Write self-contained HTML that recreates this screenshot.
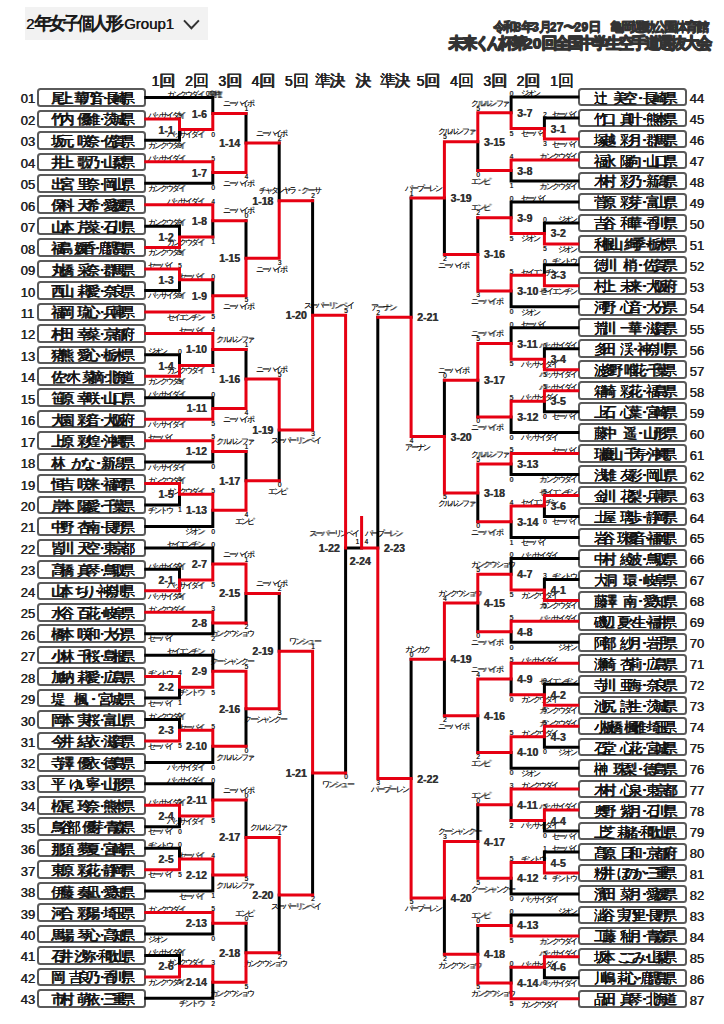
<!DOCTYPE html><html><head><meta charset="utf-8"><style>
*{margin:0;padding:0;box-sizing:border-box}
html,body{width:724px;height:1024px;overflow:hidden;background:#fff}
body{position:relative;font-family:"Liberation Sans",sans-serif;color:#222}
.ln{position:absolute;left:0;top:0}
.a{position:absolute;white-space:nowrap}
.hd{left:25px;top:7px;width:183px;height:33px;background:#f2f2f2}
.nm i,.lb i,.ts i,.rd i,.hx i{display:inline-block;font-style:normal;text-align:center}
.bx{position:absolute;width:109.2px;height:18.6px;border:2px solid #5a5a5a;border-radius:3.5px;background:#fff}
.nm{position:absolute;height:18px;line-height:18px;font-size:13.5px;color:#111;display:flex;justify-content:space-between;text-shadow:0.7px 0 0 #111,0 0.4px 0 #111}
.nm i{width:7.7px;overflow:visible}
.no{position:absolute;font-size:13px;color:#222;line-height:14px;text-shadow:0.4px 0 0 #222}
.ml{position:absolute;font-size:10.5px;font-weight:bold;color:#333;line-height:12px;text-shadow:0.4px 0 0 #333}
.lb{position:absolute;font-size:8px;line-height:7px;color:#111;white-space:nowrap;text-shadow:0.3px 0 0 #555}
.lb i{width:6.1px}
.sc{position:absolute;font-size:6.5px;line-height:6px;color:#222;text-shadow:0.3px 0 0 #222}
.rd{position:absolute;top:74px;font-size:14px;line-height:14px;color:#222;white-space:nowrap;text-shadow:0.5px 0 0 #222,0 0.4px 0 #222}
.rd i{width:14.5px;font-size:16px}

</style></head><body>
<div class="a hd"></div>
<div class="a hx" style="left:26px;top:14px;font-size:15px;line-height:18px;color:#1a1a1a;text-shadow:0.5px 0 0 #1a1a1a">2<span style="font-size:17.5px;text-shadow:0.8px 0 0 #222,0 0.6px 0 #222"><i style="width:14.1px">年</i><i style="width:14.1px">女</i><i style="width:14.1px">子</i><i style="width:14.1px">個</i><i style="width:14.1px">人</i><i style="width:14.1px">形</i></span>-Group1</div>
<svg class="a" style="left:180px;top:16px" width="24" height="16"><path d="M4 4.4L11.4 12.2L18.9 4.4" stroke="#333" stroke-width="2" fill="none"/></svg>
<div class="a hx" style="left:492.5px;top:19.5px;font-size:11px;line-height:14px;color:#333;font-weight:bold"><span style="font-size:12.5px;text-shadow:0.7px 0 0 #333,0 0.6px 0 #333"><i style="width:10.75px">令</i><i style="width:10.75px">和</i>8<i style="width:10.75px">年</i>3<i style="width:10.75px">月</i>27<i style="width:10.75px">〜</i>29<i style="width:10.75px">日</i><i style="width:11.5px"></i><i style="width:10.75px">亀</i><i style="width:10.75px">岡</i><i style="width:10.75px">運</i><i style="width:10.75px">動</i><i style="width:10.75px">公</i><i style="width:10.75px">園</i><i style="width:10.75px">体</i><i style="width:10.75px">育</i><i style="width:10.75px">館</i></span></div>
<div class="a hx" style="left:448px;top:34.5px;font-size:14px;line-height:16px;color:#333;font-weight:bold"><span style="font-size:15.5px;text-shadow:1px 0 0 #333,0 0.8px 0 #333,1px 0.8px 0 #333"><i style="width:12.9px">未</i><i style="width:12.9px">来</i><i style="width:12px">く</i><i style="width:12px">ん</i><i style="width:12.9px">杯</i><i style="width:12.9px">第</i>20<i style="width:12.9px">回</i><i style="width:12.9px">全</i><i style="width:12.9px">国</i><i style="width:12.9px">中</i><i style="width:12.9px">学</i><i style="width:12.9px">生</i><i style="width:12.9px">空</i><i style="width:12.9px">手</i><i style="width:12.9px">道</i><i style="width:12.9px">選</i><i style="width:12.9px">抜</i><i style="width:12.9px">大</i><i style="width:12.9px">会</i></span></div>
<div class="rd" style="left:151.5px">1<i>回</i></div>
<div class="rd" style="left:185px">2<i>回</i></div>
<div class="rd" style="left:218.25px">3<i>回</i></div>
<div class="rd" style="left:251.45px">4<i>回</i></div>
<div class="rd" style="left:284.75px">5<i>回</i></div>
<div class="rd" style="left:314.6px"><i>準</i><i>決</i></div>
<div class="rd" style="left:355.35px"><i>決</i></div>
<div class="rd" style="left:549.95px">1<i>回</i></div>
<div class="rd" style="left:516.6px">2<i>回</i></div>
<div class="rd" style="left:483.3px">3<i>回</i></div>
<div class="rd" style="left:449.95px">4<i>回</i></div>
<div class="rd" style="left:416.6px">5<i>回</i></div>
<div class="rd" style="left:379.95px"><i>準</i><i>決</i></div>
<div class="bx" style="left:36.6px;top:88.15px"></div>
<div class="nm" style="left:51.4px;top:89.95px;width:77px"><i>尾</i><i>上</i><i>&#8203;</i><i>華</i><i>乃</i><i>音</i><i>・</i><i>長</i><i>崎</i><i>県</i></div>
<div class="no" style="left:20.5px;top:92.45px">01</div>
<div class="bx" style="left:36.6px;top:109.6px"></div>
<div class="nm" style="left:51.4px;top:111.4px;width:77px"><i>竹</i><i>内</i><i>&#8203;</i><i>優</i><i>維</i><i>・</i><i>茨</i><i>城</i><i>県</i></div>
<div class="no" style="left:20.5px;top:113.9px">02</div>
<div class="bx" style="left:36.6px;top:131.05px"></div>
<div class="nm" style="left:51.4px;top:132.85px;width:77px"><i>坂</i><i>元</i><i>&#8203;</i><i>咲</i><i>奈</i><i>・</i><i>佐</i><i>賀</i><i>県</i></div>
<div class="no" style="left:20.5px;top:135.35px">03</div>
<div class="bx" style="left:36.6px;top:152.5px"></div>
<div class="nm" style="left:51.4px;top:154.3px;width:77px"><i>井</i><i>上</i><i>&#8203;</i><i>歌</i><i>乃</i><i>・</i><i>山</i><i>梨</i><i>県</i></div>
<div class="no" style="left:20.5px;top:156.8px">04</div>
<div class="bx" style="left:36.6px;top:173.95px"></div>
<div class="nm" style="left:51.4px;top:175.75px;width:77px"><i>出</i><i>宮</i><i>&#8203;</i><i>里</i><i>奈</i><i>・</i><i>岡</i><i>山</i><i>県</i></div>
<div class="no" style="left:20.5px;top:178.25px">05</div>
<div class="bx" style="left:36.6px;top:195.4px"></div>
<div class="nm" style="left:51.4px;top:197.2px;width:77px"><i>保</i><i>科</i><i>&#8203;</i><i>天</i><i>希</i><i>・</i><i>愛</i><i>媛</i><i>県</i></div>
<div class="no" style="left:20.5px;top:199.7px">06</div>
<div class="bx" style="left:36.6px;top:216.85px"></div>
<div class="nm" style="left:51.4px;top:218.65px;width:77px"><i>山</i><i>本</i><i>&#8203;</i><i>芹</i><i>菜</i><i>・</i><i>石</i><i>川</i><i>県</i></div>
<div class="no" style="left:20.5px;top:221.15px">07</div>
<div class="bx" style="left:36.6px;top:238.3px"></div>
<div class="nm" style="left:51.4px;top:240.1px;width:77px"><i>福</i><i>島</i><i>&#8203;</i><i>媛</i><i>香</i><i>・</i><i>鹿</i><i>児</i><i>島</i><i>県</i></div>
<div class="no" style="left:20.5px;top:242.6px">08</div>
<div class="bx" style="left:36.6px;top:259.75px"></div>
<div class="nm" style="left:51.4px;top:261.55px;width:77px"><i>丸</i><i>橋</i><i>&#8203;</i><i>采</i><i>奈</i><i>・</i><i>群</i><i>馬</i><i>県</i></div>
<div class="no" style="left:20.5px;top:264.05px">09</div>
<div class="bx" style="left:36.6px;top:281.2px"></div>
<div class="nm" style="left:51.4px;top:283px;width:77px"><i>西</i><i>山</i><i>&#8203;</i><i>莉</i><i>愛</i><i>・</i><i>奈</i><i>良</i><i>県</i></div>
<div class="no" style="left:20.5px;top:285.5px">10</div>
<div class="bx" style="left:36.6px;top:302.65px"></div>
<div class="nm" style="left:51.4px;top:304.45px;width:77px"><i>福</i><i>岡</i><i>&#8203;</i><i>琉</i><i>心</i><i>・</i><i>兵</i><i>庫</i><i>県</i></div>
<div class="no" style="left:20.5px;top:306.95px">11</div>
<div class="bx" style="left:36.6px;top:324.1px"></div>
<div class="nm" style="left:51.4px;top:325.9px;width:77px"><i>村</i><i>田</i><i>&#8203;</i><i>幸</i><i>菜</i><i>・</i><i>京</i><i>都</i><i>府</i></div>
<div class="no" style="left:20.5px;top:328.4px">12</div>
<div class="bx" style="left:36.6px;top:345.55px"></div>
<div class="nm" style="left:51.4px;top:347.35px;width:77px"><i>猪</i><i>熊</i><i>&#8203;</i><i>愛</i><i>心</i><i>・</i><i>栃</i><i>木</i><i>県</i></div>
<div class="no" style="left:20.5px;top:349.85px">13</div>
<div class="bx" style="left:36.6px;top:367px"></div>
<div class="nm" style="left:51.4px;top:368.8px;width:77px"><i>佐</i><i>々</i><i>木</i><i>&#8203;</i><i>菜</i><i>摘</i><i>・</i><i>北</i><i>海</i><i>道</i></div>
<div class="no" style="left:20.5px;top:371.3px">14</div>
<div class="bx" style="left:36.6px;top:388.45px"></div>
<div class="nm" style="left:51.4px;top:390.25px;width:77px"><i>笹</i><i>原</i><i>&#8203;</i><i>幸</i><i>咲</i><i>・</i><i>山</i><i>口</i><i>県</i></div>
<div class="no" style="left:20.5px;top:392.75px">15</div>
<div class="bx" style="left:36.6px;top:409.9px"></div>
<div class="nm" style="left:51.4px;top:411.7px;width:77px"><i>大</i><i>園</i><i>&#8203;</i><i>彩</i><i>音</i><i>・</i><i>大</i><i>阪</i><i>府</i></div>
<div class="no" style="left:20.5px;top:414.2px">16</div>
<div class="bx" style="left:36.6px;top:431.35px"></div>
<div class="nm" style="left:51.4px;top:433.15px;width:77px"><i>上</i><i>原</i><i>&#8203;</i><i>彩</i><i>煌</i><i>・</i><i>沖</i><i>縄</i><i>県</i></div>
<div class="no" style="left:20.5px;top:435.65px">17</div>
<div class="bx" style="left:36.6px;top:452.8px"></div>
<div class="nm" style="left:51.4px;top:454.6px;width:77px"><i>林</i><i>&#8203;</i><i>か</i><i>な</i><i>・</i><i>新</i><i>潟</i><i>県</i></div>
<div class="no" style="left:20.5px;top:457.1px">18</div>
<div class="bx" style="left:36.6px;top:474.25px"></div>
<div class="nm" style="left:51.4px;top:476.05px;width:77px"><i>恒</i><i>吉</i><i>&#8203;</i><i>咲</i><i>来</i><i>・</i><i>福</i><i>岡</i><i>県</i></div>
<div class="no" style="left:20.5px;top:478.55px">19</div>
<div class="bx" style="left:36.6px;top:495.7px"></div>
<div class="nm" style="left:51.4px;top:497.5px;width:77px"><i>岸</i><i>本</i><i>&#8203;</i><i>陽</i><i>愛</i><i>・</i><i>千</i><i>葉</i><i>県</i></div>
<div class="no" style="left:20.5px;top:500px">20</div>
<div class="bx" style="left:36.6px;top:517.15px"></div>
<div class="nm" style="left:51.4px;top:518.95px;width:77px"><i>中</i><i>野</i><i>&#8203;</i><i>杏</i><i>南</i><i>・</i><i>長</i><i>野</i><i>県</i></div>
<div class="no" style="left:20.5px;top:521.45px">21</div>
<div class="bx" style="left:36.6px;top:538.6px"></div>
<div class="nm" style="left:51.4px;top:540.4px;width:77px"><i>皆</i><i>川</i><i>&#8203;</i><i>天</i><i>空</i><i>・</i><i>東</i><i>京</i><i>都</i></div>
<div class="no" style="left:20.5px;top:542.9px">22</div>
<div class="bx" style="left:36.6px;top:560.05px"></div>
<div class="nm" style="left:51.4px;top:561.85px;width:77px"><i>高</i><i>橋</i><i>&#8203;</i><i>真</i><i>琴</i><i>・</i><i>鳥</i><i>取</i><i>県</i></div>
<div class="no" style="left:20.5px;top:564.35px">23</div>
<div class="bx" style="left:36.6px;top:581.5px"></div>
<div class="nm" style="left:51.4px;top:583.3px;width:77px"><i>山</i><i>本</i><i>&#8203;</i><i>ち</i><i>り</i><i>・</i><i>神</i><i>奈</i><i>川</i><i>県</i></div>
<div class="no" style="left:20.5px;top:585.8px">24</div>
<div class="bx" style="left:36.6px;top:602.95px"></div>
<div class="nm" style="left:51.4px;top:604.75px;width:77px"><i>水</i><i>谷</i><i>&#8203;</i><i>百</i><i>花</i><i>・</i><i>岐</i><i>阜</i><i>県</i></div>
<div class="no" style="left:20.5px;top:607.25px">25</div>
<div class="bx" style="left:36.6px;top:624.4px"></div>
<div class="nm" style="left:51.4px;top:626.2px;width:77px"><i>橋</i><i>本</i><i>&#8203;</i><i>咲</i><i>和</i><i>・</i><i>大</i><i>分</i><i>県</i></div>
<div class="no" style="left:20.5px;top:628.7px">26</div>
<div class="bx" style="left:36.6px;top:645.85px"></div>
<div class="nm" style="left:51.4px;top:647.65px;width:77px"><i>小</i><i>林</i><i>&#8203;</i><i>千</i><i>桜</i><i>・</i><i>島</i><i>根</i><i>県</i></div>
<div class="no" style="left:20.5px;top:650.15px">27</div>
<div class="bx" style="left:36.6px;top:667.3px"></div>
<div class="nm" style="left:51.4px;top:669.1px;width:77px"><i>加</i><i>納</i><i>&#8203;</i><i>莉</i><i>愛</i><i>・</i><i>広</i><i>島</i><i>県</i></div>
<div class="no" style="left:20.5px;top:671.6px">28</div>
<div class="bx" style="left:36.6px;top:688.75px"></div>
<div class="nm" style="left:51.4px;top:690.55px;width:77px"><i>堤</i><i>&#8203;</i><i>楓</i><i>・</i><i>宮</i><i>城</i><i>県</i></div>
<div class="no" style="left:20.5px;top:693.05px">29</div>
<div class="bx" style="left:36.6px;top:710.2px"></div>
<div class="nm" style="left:51.4px;top:712px;width:77px"><i>岡</i><i>本</i><i>&#8203;</i><i>実</i><i>桜</i><i>・</i><i>富</i><i>山</i><i>県</i></div>
<div class="no" style="left:20.5px;top:714.5px">30</div>
<div class="bx" style="left:36.6px;top:731.65px"></div>
<div class="nm" style="left:51.4px;top:733.45px;width:77px"><i>今</i><i>井</i><i>&#8203;</i><i>結</i><i>衣</i><i>・</i><i>滋</i><i>賀</i><i>県</i></div>
<div class="no" style="left:20.5px;top:735.95px">31</div>
<div class="bx" style="left:36.6px;top:753.1px"></div>
<div class="nm" style="left:51.4px;top:754.9px;width:77px"><i>寺</i><i>澤</i><i>&#8203;</i><i>優</i><i>衣</i><i>・</i><i>徳</i><i>島</i><i>県</i></div>
<div class="no" style="left:20.5px;top:757.4px">32</div>
<div class="bx" style="left:36.6px;top:774.55px"></div>
<div class="nm" style="left:51.4px;top:776.35px;width:77px"><i>平</i><i>&#8203;</i><i>ゆ</i><i>い</i><i>寧</i><i>・</i><i>山</i><i>形</i><i>県</i></div>
<div class="no" style="left:20.5px;top:778.85px">33</div>
<div class="bx" style="left:36.6px;top:796px"></div>
<div class="nm" style="left:51.4px;top:797.8px;width:77px"><i>松</i><i>尾</i><i>&#8203;</i><i>玲</i><i>奈</i><i>・</i><i>熊</i><i>本</i><i>県</i></div>
<div class="no" style="left:20.5px;top:800.3px">34</div>
<div class="bx" style="left:36.6px;top:817.45px"></div>
<div class="nm" style="left:51.4px;top:819.25px;width:77px"><i>鳥</i><i>谷</i><i>部</i><i>&#8203;</i><i>優</i><i>芽</i><i>・</i><i>青</i><i>森</i><i>県</i></div>
<div class="no" style="left:20.5px;top:821.75px">35</div>
<div class="bx" style="left:36.6px;top:838.9px"></div>
<div class="nm" style="left:51.4px;top:840.7px;width:77px"><i>那</i><i>須</i><i>&#8203;</i><i>夢</i><i>夏</i><i>・</i><i>宮</i><i>崎</i><i>県</i></div>
<div class="no" style="left:20.5px;top:843.2px">36</div>
<div class="bx" style="left:36.6px;top:860.35px"></div>
<div class="nm" style="left:51.4px;top:862.15px;width:77px"><i>東</i><i>原</i><i>&#8203;</i><i>彩</i><i>花</i><i>・</i><i>静</i><i>岡</i><i>県</i></div>
<div class="no" style="left:20.5px;top:864.65px">37</div>
<div class="bx" style="left:36.6px;top:881.8px"></div>
<div class="nm" style="left:51.4px;top:883.6px;width:77px"><i>伊</i><i>藤</i><i>&#8203;</i><i>奏</i><i>凪</i><i>・</i><i>愛</i><i>知</i><i>県</i></div>
<div class="no" style="left:20.5px;top:886.1px">38</div>
<div class="bx" style="left:36.6px;top:903.25px"></div>
<div class="nm" style="left:51.4px;top:905.05px;width:77px"><i>河</i><i>合</i><i>&#8203;</i><i>彩</i><i>陽</i><i>・</i><i>埼</i><i>玉</i><i>県</i></div>
<div class="no" style="left:20.5px;top:907.55px">39</div>
<div class="bx" style="left:36.6px;top:924.7px"></div>
<div class="nm" style="left:51.4px;top:926.5px;width:77px"><i>馬</i><i>場</i><i>&#8203;</i><i>琴</i><i>心</i><i>・</i><i>高</i><i>知</i><i>県</i></div>
<div class="no" style="left:20.5px;top:929px">40</div>
<div class="bx" style="left:36.6px;top:946.15px"></div>
<div class="nm" style="left:51.4px;top:947.95px;width:77px"><i>石</i><i>井</i><i>&#8203;</i><i>沙</i><i>弥</i><i>・</i><i>和</i><i>歌</i><i>山</i><i>県</i></div>
<div class="no" style="left:20.5px;top:950.45px">41</div>
<div class="bx" style="left:36.6px;top:967.6px"></div>
<div class="nm" style="left:51.4px;top:969.4px;width:77px"><i>岡</i><i>&#8203;</i><i>吉</i><i>良</i><i>乃</i><i>・</i><i>香</i><i>川</i><i>県</i></div>
<div class="no" style="left:20.5px;top:971.9px">42</div>
<div class="bx" style="left:36.6px;top:989.05px"></div>
<div class="nm" style="left:51.4px;top:990.85px;width:77px"><i>市</i><i>村</i><i>&#8203;</i><i>萌</i><i>依</i><i>・</i><i>三</i><i>重</i><i>県</i></div>
<div class="no" style="left:20.5px;top:993.35px">43</div>
<div class="bx" style="left:577.6px;top:87.8px"></div>
<div class="nm" style="left:593.6px;top:89.6px;width:77px"><i>辻</i><i>&#8203;</i><i>美</i><i>空</i><i>・</i><i>長</i><i>崎</i><i>県</i></div>
<div class="no" style="left:689.5px;top:92.1px">44</div>
<div class="bx" style="left:577.6px;top:108.77px"></div>
<div class="nm" style="left:593.6px;top:110.57px;width:77px"><i>竹</i><i>口</i><i>&#8203;</i><i>真</i><i>叶</i><i>・</i><i>熊</i><i>本</i><i>県</i></div>
<div class="no" style="left:689.5px;top:113.07px">45</div>
<div class="bx" style="left:577.6px;top:129.74px"></div>
<div class="nm" style="left:593.6px;top:131.54px;width:77px"><i>塚</i><i>越</i><i>&#8203;</i><i>彩</i><i>月</i><i>・</i><i>群</i><i>馬</i><i>県</i></div>
<div class="no" style="left:689.5px;top:134.04px">46</div>
<div class="bx" style="left:577.6px;top:150.71px"></div>
<div class="nm" style="left:593.6px;top:152.51px;width:77px"><i>福</i><i>永</i><i>&#8203;</i><i>陽</i><i>向</i><i>・</i><i>山</i><i>口</i><i>県</i></div>
<div class="no" style="left:689.5px;top:155.01px">47</div>
<div class="bx" style="left:577.6px;top:171.68px"></div>
<div class="nm" style="left:593.6px;top:173.48px;width:77px"><i>木</i><i>村</i><i>&#8203;</i><i>彩</i><i>乃</i><i>・</i><i>新</i><i>潟</i><i>県</i></div>
<div class="no" style="left:689.5px;top:175.98px">48</div>
<div class="bx" style="left:577.6px;top:192.65px"></div>
<div class="nm" style="left:593.6px;top:194.45px;width:77px"><i>菅</i><i>原</i><i>&#8203;</i><i>彩</i><i>芽</i><i>・</i><i>富</i><i>山</i><i>県</i></div>
<div class="no" style="left:689.5px;top:196.95px">49</div>
<div class="bx" style="left:577.6px;top:213.62px"></div>
<div class="nm" style="left:593.6px;top:215.42px;width:77px"><i>吉</i><i>谷</i><i>&#8203;</i><i>和</i><i>華</i><i>・</i><i>香</i><i>川</i><i>県</i></div>
<div class="no" style="left:689.5px;top:217.92px">50</div>
<div class="bx" style="left:577.6px;top:234.59px"></div>
<div class="nm" style="left:593.6px;top:236.39px;width:77px"><i>利</i><i>根</i><i>山</i><i>&#8203;</i><i>絢</i><i>季</i><i>・</i><i>栃</i><i>木</i><i>県</i></div>
<div class="no" style="left:689.5px;top:238.89px">51</div>
<div class="bx" style="left:577.6px;top:255.56px"></div>
<div class="nm" style="left:593.6px;top:257.36px;width:77px"><i>徳</i><i>川</i><i>&#8203;</i><i>梢</i><i>・</i><i>佐</i><i>賀</i><i>県</i></div>
<div class="no" style="left:689.5px;top:259.86px">52</div>
<div class="bx" style="left:577.6px;top:276.53px"></div>
<div class="nm" style="left:593.6px;top:278.33px;width:77px"><i>村</i><i>上</i><i>&#8203;</i><i>未</i><i>来</i><i>・</i><i>大</i><i>阪</i><i>府</i></div>
<div class="no" style="left:689.5px;top:280.83px">53</div>
<div class="bx" style="left:577.6px;top:297.5px"></div>
<div class="nm" style="left:593.6px;top:299.3px;width:77px"><i>河</i><i>野</i><i>&#8203;</i><i>心</i><i>音</i><i>・</i><i>大</i><i>分</i><i>県</i></div>
<div class="no" style="left:689.5px;top:301.8px">54</div>
<div class="bx" style="left:577.6px;top:318.47px"></div>
<div class="nm" style="left:593.6px;top:320.27px;width:77px"><i>荒</i><i>川</i><i>&#8203;</i><i>一</i><i>華</i><i>・</i><i>滋</i><i>賀</i><i>県</i></div>
<div class="no" style="left:689.5px;top:322.77px">55</div>
<div class="bx" style="left:577.6px;top:339.44px"></div>
<div class="nm" style="left:593.6px;top:341.24px;width:77px"><i>多</i><i>田</i><i>&#8203;</i><i>渓</i><i>・</i><i>神</i><i>奈</i><i>川</i><i>県</i></div>
<div class="no" style="left:689.5px;top:343.74px">56</div>
<div class="bx" style="left:577.6px;top:360.41px"></div>
<div class="nm" style="left:593.6px;top:362.21px;width:77px"><i>波</i><i>多</i><i>野</i><i>&#8203;</i><i>唯</i><i>花</i><i>・</i><i>千</i><i>葉</i><i>県</i></div>
<div class="no" style="left:689.5px;top:364.71px">57</div>
<div class="bx" style="left:577.6px;top:381.38px"></div>
<div class="nm" style="left:593.6px;top:383.18px;width:77px"><i>箱</i><i>崎</i><i>&#8203;</i><i>彩</i><i>花</i><i>・</i><i>福</i><i>島</i><i>県</i></div>
<div class="no" style="left:689.5px;top:385.68px">58</div>
<div class="bx" style="left:577.6px;top:402.35px"></div>
<div class="nm" style="left:593.6px;top:404.15px;width:77px"><i>上</i><i>石</i><i>&#8203;</i><i>心</i><i>葉</i><i>・</i><i>宮</i><i>崎</i><i>県</i></div>
<div class="no" style="left:689.5px;top:406.65px">59</div>
<div class="bx" style="left:577.6px;top:423.32px"></div>
<div class="nm" style="left:593.6px;top:425.12px;width:77px"><i>藤</i><i>中</i><i>&#8203;</i><i>遥</i><i>・</i><i>山</i><i>形</i><i>県</i></div>
<div class="no" style="left:689.5px;top:427.62px">60</div>
<div class="bx" style="left:577.6px;top:444.29px"></div>
<div class="nm" style="left:593.6px;top:446.09px;width:77px"><i>瑞</i><i>慶</i><i>山</i><i>&#8203;</i><i>千</i><i>寿</i><i>・</i><i>沖</i><i>縄</i><i>県</i></div>
<div class="no" style="left:689.5px;top:448.59px">61</div>
<div class="bx" style="left:577.6px;top:465.26px"></div>
<div class="nm" style="left:593.6px;top:467.06px;width:77px"><i>浅</i><i>雄</i><i>&#8203;</i><i>友</i><i>彩</i><i>・</i><i>岡</i><i>山</i><i>県</i></div>
<div class="no" style="left:689.5px;top:469.56px">62</div>
<div class="bx" style="left:577.6px;top:486.23px"></div>
<div class="nm" style="left:593.6px;top:488.03px;width:77px"><i>金</i><i>川</i><i>&#8203;</i><i>花</i><i>梨</i><i>・</i><i>兵</i><i>庫</i><i>県</i></div>
<div class="no" style="left:689.5px;top:490.53px">63</div>
<div class="bx" style="left:577.6px;top:507.2px"></div>
<div class="nm" style="left:593.6px;top:509px;width:77px"><i>土</i><i>屋</i><i>&#8203;</i><i>璃</i><i>歩</i><i>・</i><i>静</i><i>岡</i><i>県</i></div>
<div class="no" style="left:689.5px;top:511.5px">64</div>
<div class="bx" style="left:577.6px;top:528.17px"></div>
<div class="nm" style="left:593.6px;top:529.97px;width:77px"><i>岩</i><i>谷</i><i>&#8203;</i><i>珠</i><i>優</i><i>音</i><i>・</i><i>福</i><i>岡</i><i>県</i></div>
<div class="no" style="left:689.5px;top:532.47px">65</div>
<div class="bx" style="left:577.6px;top:549.14px"></div>
<div class="nm" style="left:593.6px;top:550.94px;width:77px"><i>中</i><i>村</i><i>&#8203;</i><i>綾</i><i>波</i><i>・</i><i>鳥</i><i>取</i><i>県</i></div>
<div class="no" style="left:689.5px;top:553.44px">66</div>
<div class="bx" style="left:577.6px;top:570.11px"></div>
<div class="nm" style="left:593.6px;top:571.91px;width:77px"><i>大</i><i>洞</i><i>&#8203;</i><i>環</i><i>・</i><i>岐</i><i>阜</i><i>県</i></div>
<div class="no" style="left:689.5px;top:574.41px">67</div>
<div class="bx" style="left:577.6px;top:591.08px"></div>
<div class="nm" style="left:593.6px;top:592.88px;width:77px"><i>藤</i><i>澤</i><i>&#8203;</i><i>南</i><i>・</i><i>愛</i><i>知</i><i>県</i></div>
<div class="no" style="left:689.5px;top:595.38px">68</div>
<div class="bx" style="left:577.6px;top:612.05px"></div>
<div class="nm" style="left:593.6px;top:613.85px;width:77px"><i>磯</i><i>辺</i><i>&#8203;</i><i>夏</i><i>々</i><i>生</i><i>・</i><i>福</i><i>井</i><i>県</i></div>
<div class="no" style="left:689.5px;top:616.35px">69</div>
<div class="bx" style="left:577.6px;top:633.02px"></div>
<div class="nm" style="left:593.6px;top:634.82px;width:77px"><i>阿</i><i>部</i><i>&#8203;</i><i>紗</i><i>月</i><i>・</i><i>岩</i><i>手</i><i>県</i></div>
<div class="no" style="left:689.5px;top:637.32px">70</div>
<div class="bx" style="left:577.6px;top:653.99px"></div>
<div class="nm" style="left:593.6px;top:655.79px;width:77px"><i>瀬</i><i>崎</i><i>&#8203;</i><i>杏</i><i>莉</i><i>・</i><i>広</i><i>島</i><i>県</i></div>
<div class="no" style="left:689.5px;top:658.29px">71</div>
<div class="bx" style="left:577.6px;top:674.96px"></div>
<div class="nm" style="left:593.6px;top:676.76px;width:77px"><i>寺</i><i>川</i><i>&#8203;</i><i>亜</i><i>海</i><i>・</i><i>奈</i><i>良</i><i>県</i></div>
<div class="no" style="left:689.5px;top:679.26px">72</div>
<div class="bx" style="left:577.6px;top:695.93px"></div>
<div class="nm" style="left:593.6px;top:697.73px;width:77px"><i>池</i><i>尻</i><i>&#8203;</i><i>詩</i><i>生</i><i>・</i><i>茨</i><i>城</i><i>県</i></div>
<div class="no" style="left:689.5px;top:700.23px">73</div>
<div class="bx" style="left:577.6px;top:716.9px"></div>
<div class="nm" style="left:593.6px;top:718.7px;width:77px"><i>小</i><i>板</i><i>橋</i><i>&#8203;</i><i>楓</i><i>雅</i><i>・</i><i>埼</i><i>玉</i><i>県</i></div>
<div class="no" style="left:689.5px;top:721.2px">74</div>
<div class="bx" style="left:577.6px;top:737.87px"></div>
<div class="nm" style="left:593.6px;top:739.67px;width:77px"><i>石</i><i>堂</i><i>&#8203;</i><i>心</i><i>花</i><i>・</i><i>宮</i><i>城</i><i>県</i></div>
<div class="no" style="left:689.5px;top:742.17px">75</div>
<div class="bx" style="left:577.6px;top:758.84px"></div>
<div class="nm" style="left:593.6px;top:760.64px;width:77px"><i>榊</i><i>&#8203;</i><i>珠</i><i>梨</i><i>・</i><i>徳</i><i>島</i><i>県</i></div>
<div class="no" style="left:689.5px;top:763.14px">76</div>
<div class="bx" style="left:577.6px;top:779.81px"></div>
<div class="nm" style="left:593.6px;top:781.61px;width:77px"><i>木</i><i>村</i><i>&#8203;</i><i>心</i><i>泉</i><i>・</i><i>東</i><i>京</i><i>都</i></div>
<div class="no" style="left:689.5px;top:784.11px">77</div>
<div class="bx" style="left:577.6px;top:800.78px"></div>
<div class="nm" style="left:593.6px;top:802.58px;width:77px"><i>奥</i><i>野</i><i>&#8203;</i><i>紫</i><i>月</i><i>・</i><i>石</i><i>川</i><i>県</i></div>
<div class="no" style="left:689.5px;top:805.08px">78</div>
<div class="bx" style="left:577.6px;top:821.75px"></div>
<div class="nm" style="left:593.6px;top:823.55px;width:77px"><i>上</i><i>芝</i><i>&#8203;</i><i>莉</i><i>緒</i><i>・</i><i>和</i><i>歌</i><i>山</i><i>県</i></div>
<div class="no" style="left:689.5px;top:826.05px">79</div>
<div class="bx" style="left:577.6px;top:842.72px"></div>
<div class="nm" style="left:593.6px;top:844.52px;width:77px"><i>髙</i><i>原</i><i>&#8203;</i><i>日</i><i>和</i><i>・</i><i>京</i><i>都</i><i>府</i></div>
<div class="no" style="left:689.5px;top:847.02px">80</div>
<div class="bx" style="left:577.6px;top:863.69px"></div>
<div class="nm" style="left:593.6px;top:865.49px;width:77px"><i>粉</i><i>井</i><i>&#8203;</i><i>ほ</i><i>の</i><i>か</i><i>・</i><i>三</i><i>重</i><i>県</i></div>
<div class="no" style="left:689.5px;top:867.99px">81</div>
<div class="bx" style="left:577.6px;top:884.66px"></div>
<div class="nm" style="left:593.6px;top:886.46px;width:77px"><i>濱</i><i>田</i><i>&#8203;</i><i>菜</i><i>月</i><i>・</i><i>愛</i><i>媛</i><i>県</i></div>
<div class="no" style="left:689.5px;top:888.96px">82</div>
<div class="bx" style="left:577.6px;top:905.63px"></div>
<div class="nm" style="left:593.6px;top:907.43px;width:77px"><i>澁</i><i>谷</i><i>&#8203;</i><i>実</i><i>乃</i><i>里</i><i>・</i><i>長</i><i>野</i><i>県</i></div>
<div class="no" style="left:689.5px;top:909.93px">83</div>
<div class="bx" style="left:577.6px;top:926.6px"></div>
<div class="nm" style="left:593.6px;top:928.4px;width:77px"><i>工</i><i>藤</i><i>&#8203;</i><i>釉</i><i>月</i><i>・</i><i>青</i><i>森</i><i>県</i></div>
<div class="no" style="left:689.5px;top:930.9px">84</div>
<div class="bx" style="left:577.6px;top:947.57px"></div>
<div class="nm" style="left:593.6px;top:949.37px;width:77px"><i>坂</i><i>本</i><i>&#8203;</i><i>こ</i><i>こ</i><i>み</i><i>・</i><i>山</i><i>梨</i><i>県</i></div>
<div class="no" style="left:689.5px;top:951.87px">85</div>
<div class="bx" style="left:577.6px;top:968.54px"></div>
<div class="nm" style="left:593.6px;top:970.34px;width:77px"><i>川</i><i>嶋</i><i>&#8203;</i><i>莉</i><i>心</i><i>・</i><i>鹿</i><i>児</i><i>島</i><i>県</i></div>
<div class="no" style="left:689.5px;top:972.84px">86</div>
<div class="bx" style="left:577.6px;top:989.51px"></div>
<div class="nm" style="left:593.6px;top:991.31px;width:77px"><i>品</i><i>田</i><i>&#8203;</i><i>真</i><i>琴</i><i>・</i><i>北</i><i>海</i><i>道</i></div>
<div class="no" style="left:689.5px;top:993.81px">87</div>
<div class="ml" style="right:550.5px;top:123.62px">1-1</div>
<div class="ml" style="right:517.2px;top:107.54px">1-6</div>
<div class="ml" style="right:517.2px;top:166.53px">1-7</div>
<div class="ml" style="right:484px;top:137.03px">1-14</div>
<div class="ml" style="right:550.5px;top:230.88px">1-2</div>
<div class="ml" style="right:517.2px;top:214.79px">1-8</div>
<div class="ml" style="right:550.5px;top:273.77px">1-3</div>
<div class="ml" style="right:517.2px;top:289.86px">1-9</div>
<div class="ml" style="right:484px;top:252.32px">1-15</div>
<div class="ml" style="right:450.8px;top:194.68px">1-18</div>
<div class="ml" style="right:550.5px;top:359.57px">1-4</div>
<div class="ml" style="right:517.2px;top:343.49px">1-10</div>
<div class="ml" style="right:517.2px;top:402.48px">1-11</div>
<div class="ml" style="right:484px;top:372.98px">1-16</div>
<div class="ml" style="right:517.2px;top:445.38px">1-12</div>
<div class="ml" style="right:550.5px;top:488.27px">1-5</div>
<div class="ml" style="right:517.2px;top:504.36px">1-13</div>
<div class="ml" style="right:484px;top:474.87px">1-17</div>
<div class="ml" style="right:450.8px;top:423.92px">1-19</div>
<div class="ml" style="right:417.4px;top:309.3px">1-20</div>
<div class="ml" style="right:550.5px;top:574.08px">2-1</div>
<div class="ml" style="right:517.2px;top:557.99px">2-7</div>
<div class="ml" style="right:517.2px;top:616.98px">2-8</div>
<div class="ml" style="right:484px;top:587.48px">2-15</div>
<div class="ml" style="right:550.5px;top:681.33px">2-2</div>
<div class="ml" style="right:517.2px;top:665.24px">2-9</div>
<div class="ml" style="right:550.5px;top:724.23px">2-3</div>
<div class="ml" style="right:517.2px;top:740.31px">2-10</div>
<div class="ml" style="right:484px;top:702.77px">2-16</div>
<div class="ml" style="right:450.8px;top:645.13px">2-19</div>
<div class="ml" style="right:550.5px;top:810.03px">2-4</div>
<div class="ml" style="right:517.2px;top:793.94px">2-11</div>
<div class="ml" style="right:550.5px;top:852.92px">2-5</div>
<div class="ml" style="right:517.2px;top:869.01px">2-12</div>
<div class="ml" style="right:484px;top:831.48px">2-17</div>
<div class="ml" style="right:517.2px;top:917.28px">2-13</div>
<div class="ml" style="right:550.5px;top:960.17px">2-6</div>
<div class="ml" style="right:517.2px;top:976.26px">2-14</div>
<div class="ml" style="right:484px;top:946.77px">2-18</div>
<div class="ml" style="right:450.8px;top:889.12px">2-20</div>
<div class="ml" style="right:417.4px;top:767.12px">1-21</div>
<div class="ml" style="right:384.4px;top:542px">1-22</div>
<div class="ml" style="left:550.4px;top:122.56px">3-1</div>
<div class="ml" style="left:517.1px;top:106.83px">3-7</div>
<div class="ml" style="left:517.1px;top:164.5px">3-8</div>
<div class="ml" style="left:483.8px;top:135.66px">3-15</div>
<div class="ml" style="left:550.4px;top:227.4px">3-2</div>
<div class="ml" style="left:517.1px;top:211.68px">3-9</div>
<div class="ml" style="left:550.4px;top:269.35px">3-3</div>
<div class="ml" style="left:517.1px;top:285.07px">3-10</div>
<div class="ml" style="left:483.8px;top:248.38px">3-16</div>
<div class="ml" style="left:450.4px;top:192.02px">3-19</div>
<div class="ml" style="left:550.4px;top:353.23px">3-4</div>
<div class="ml" style="left:517.1px;top:337.5px">3-11</div>
<div class="ml" style="left:550.4px;top:395.16px">3-5</div>
<div class="ml" style="left:517.1px;top:410.89px">3-12</div>
<div class="ml" style="left:483.8px;top:374.19px">3-17</div>
<div class="ml" style="left:517.1px;top:458.07px">3-13</div>
<div class="ml" style="left:550.4px;top:500.01px">3-6</div>
<div class="ml" style="left:517.1px;top:515.74px">3-14</div>
<div class="ml" style="left:483.8px;top:486.91px">3-18</div>
<div class="ml" style="left:450.4px;top:430.55px">3-20</div>
<div class="ml" style="left:417.1px;top:311.28px">2-21</div>
<div class="ml" style="left:550.4px;top:583.89px">4-1</div>
<div class="ml" style="left:517.1px;top:568.17px">4-7</div>
<div class="ml" style="left:517.1px;top:625.84px">4-8</div>
<div class="ml" style="left:483.8px;top:597px">4-15</div>
<div class="ml" style="left:550.4px;top:688.75px">4-2</div>
<div class="ml" style="left:517.1px;top:673.02px">4-9</div>
<div class="ml" style="left:550.4px;top:730.68px">4-3</div>
<div class="ml" style="left:517.1px;top:746.41px">4-10</div>
<div class="ml" style="left:483.8px;top:709.71px">4-16</div>
<div class="ml" style="left:450.4px;top:653.36px">4-19</div>
<div class="ml" style="left:550.4px;top:814.57px">4-4</div>
<div class="ml" style="left:517.1px;top:798.84px">4-11</div>
<div class="ml" style="left:550.4px;top:856.5px">4-5</div>
<div class="ml" style="left:517.1px;top:872.23px">4-12</div>
<div class="ml" style="left:483.8px;top:835.54px">4-17</div>
<div class="ml" style="left:517.1px;top:919.41px">4-13</div>
<div class="ml" style="left:550.4px;top:961.36px">4-6</div>
<div class="ml" style="left:517.1px;top:977.08px">4-14</div>
<div class="ml" style="left:483.8px;top:948.25px">4-18</div>
<div class="ml" style="left:450.4px;top:891.89px">4-20</div>
<div class="ml" style="left:417.1px;top:772.62px">2-22</div>
<div class="ml" style="left:383.8px;top:542px">2-23</div>
<div class="ml" style="left:349.6px;top:555px">2-24</div>
<div class="lb" style="left:147.8px;top:112.2px"><i>バ</i><i>ッ</i><i>サ</i><i>イ</i><i>ダ</i><i>イ</i></div>
<div class="sc" style="left:178px;top:112.7px">5</div>
<div class="lb" style="left:147.8px;top:142.05px"><i>カ</i><i>ン</i><i>ク</i><i>ウ</i><i>ダ</i><i>イ</i></div>
<div class="sc" style="left:178px;top:142.55px">0</div>
<div class="lb" style="right:520.7px;top:90.75px"><i>カ</i><i>ン</i><i>ク</i><i>ウ</i><i>ダ</i><i>イ</i></div>
<div class="sc" style="left:205.8px;top:91.25px">0</div>
<div class="lb" style="left:208.3px;top:90.75px"><i>棄</i><i>権</i></div>
<div class="lb" style="right:520.7px;top:131.32px"><i>バ</i><i>ッ</i><i>サ</i><i>イ</i><i>ダ</i><i>イ</i></div>
<div class="sc" style="left:211.3px;top:131.82px">0</div>
<div class="lb" style="left:147.8px;top:155.1px"><i>バ</i><i>ッ</i><i>サ</i><i>イ</i><i>ダ</i><i>イ</i></div>
<div class="sc" style="left:211.3px;top:155.6px">5</div>
<div class="lb" style="left:147.8px;top:184.95px"><i>カ</i><i>ン</i><i>ク</i><i>ウ</i><i>ダ</i><i>イ</i></div>
<div class="sc" style="left:211.3px;top:185.45px">0</div>
<div class="lb" style="right:471px;top:100.24px"><i>ニ</i><i>ー</i><i>ハ</i><i>イ</i><i>ポ</i></div>
<div class="sc" style="left:244.5px;top:106.24px">1</div>
<div class="lb" style="right:471px;top:179.93px"><i>ニ</i><i>ー</i><i>ハ</i><i>イ</i><i>ポ</i></div>
<div class="sc" style="left:244.5px;top:173.83px">4</div>
<div class="lb" style="left:147.8px;top:219.45px"><i>カ</i><i>ン</i><i>ク</i><i>ウ</i><i>ダ</i><i>イ</i></div>
<div class="sc" style="left:178px;top:219.95px">0</div>
<div class="lb" style="left:147.8px;top:249.3px"><i>カ</i><i>ン</i><i>ク</i><i>ウ</i><i>ダ</i><i>イ</i></div>
<div class="sc" style="left:178px;top:249.8px">5</div>
<div class="lb" style="right:520.7px;top:198px"><i>バ</i><i>ッ</i><i>サ</i><i>イ</i><i>ダ</i><i>イ</i></div>
<div class="sc" style="left:211.3px;top:198.5px">4</div>
<div class="lb" style="right:520.7px;top:238.57px"><i>カ</i><i>ン</i><i>ク</i><i>ウ</i><i>ダ</i><i>イ</i></div>
<div class="sc" style="left:211.3px;top:239.07px">1</div>
<div class="lb" style="left:147.8px;top:262.35px"><i>セ</i><i>ー</i><i>バ</i><i>イ</i></div>
<div class="sc" style="left:178px;top:262.85px">5</div>
<div class="lb" style="left:147.8px;top:292.2px"><i>バ</i><i>ッ</i><i>サ</i><i>イ</i><i>ダ</i><i>イ</i></div>
<div class="sc" style="left:178px;top:292.7px">0</div>
<div class="lb" style="right:520.7px;top:273.07px"><i>セ</i><i>ー</i><i>バ</i><i>イ</i></div>
<div class="sc" style="left:211.3px;top:273.57px">0</div>
<div class="lb" style="right:520.7px;top:313.65px"><i>セ</i><i>イ</i><i>エ</i><i>ン</i><i>チ</i><i>ン</i></div>
<div class="sc" style="left:211.3px;top:314.15px">5</div>
<div class="lb" style="right:471px;top:207.49px"><i>ニ</i><i>ー</i><i>ハ</i><i>イ</i><i>ポ</i></div>
<div class="sc" style="left:244.5px;top:213.49px">0</div>
<div class="lb" style="right:471px;top:303.26px"><i>ニ</i><i>ー</i><i>ハ</i><i>イ</i><i>ポ</i></div>
<div class="sc" style="left:244.5px;top:297.16px">5</div>
<div class="lb" style="right:437.8px;top:129.73px"><i>ニ</i><i>ー</i><i>ハ</i><i>イ</i><i>ポ</i></div>
<div class="sc" style="left:277.7px;top:135.73px">2</div>
<div class="lb" style="right:437.8px;top:265.72px"><i>ニ</i><i>ー</i><i>ハ</i><i>イ</i><i>ポ</i></div>
<div class="sc" style="left:277.7px;top:259.62px">3</div>
<div class="lb" style="left:147.8px;top:348.15px"><i>ジ</i><i>オ</i><i>ン</i></div>
<div class="sc" style="left:178px;top:348.65px">0</div>
<div class="lb" style="left:147.8px;top:378px"><i>カ</i><i>ン</i><i>ク</i><i>ウ</i><i>ダ</i><i>イ</i></div>
<div class="sc" style="left:178px;top:378.5px">5</div>
<div class="lb" style="right:520.7px;top:326.7px"><i>セ</i><i>ー</i><i>バ</i><i>イ</i></div>
<div class="sc" style="left:211.3px;top:327.2px">4</div>
<div class="lb" style="right:520.7px;top:367.27px"><i>カ</i><i>ン</i><i>ク</i><i>ウ</i><i>ダ</i><i>イ</i></div>
<div class="sc" style="left:211.3px;top:367.77px">1</div>
<div class="lb" style="left:147.8px;top:391.05px"><i>バ</i><i>ッ</i><i>サ</i><i>イ</i><i>ダ</i><i>イ</i></div>
<div class="sc" style="left:211.3px;top:391.55px">0</div>
<div class="lb" style="left:147.8px;top:420.9px"><i>バ</i><i>ッ</i><i>サ</i><i>イ</i><i>ダ</i><i>イ</i></div>
<div class="sc" style="left:211.3px;top:421.4px">5</div>
<div class="lb" style="right:471px;top:336.19px"><i>ク</i><i>ル</i><i>ル</i><i>ン</i><i>フ</i><i>ァ</i></div>
<div class="sc" style="left:244.5px;top:342.19px">1</div>
<div class="lb" style="right:471px;top:415.88px"><i>ニ</i><i>ー</i><i>ハ</i><i>イ</i><i>ポ</i></div>
<div class="sc" style="left:244.5px;top:409.78px">4</div>
<div class="lb" style="left:147.8px;top:433.95px"><i>セ</i><i>ー</i><i>バ</i><i>イ</i></div>
<div class="sc" style="left:211.3px;top:434.45px">5</div>
<div class="lb" style="left:147.8px;top:463.8px"><i>バ</i><i>ッ</i><i>サ</i><i>イ</i><i>ダ</i><i>イ</i></div>
<div class="sc" style="left:211.3px;top:464.3px">0</div>
<div class="lb" style="left:147.8px;top:476.85px"><i>カ</i><i>ン</i><i>ク</i><i>ウ</i><i>ダ</i><i>イ</i></div>
<div class="sc" style="left:178px;top:477.35px">4</div>
<div class="lb" style="left:147.8px;top:506.7px"><i>チ</i><i>ン</i><i>ト</i><i>ウ</i></div>
<div class="sc" style="left:178px;top:507.2px">1</div>
<div class="lb" style="right:520.7px;top:487.57px"><i>カ</i><i>ン</i><i>ク</i><i>ウ</i><i>ダ</i><i>イ</i></div>
<div class="sc" style="left:211.3px;top:488.07px">5</div>
<div class="lb" style="right:520.7px;top:528.15px"><i>ジ</i><i>オ</i><i>ン</i></div>
<div class="sc" style="left:211.3px;top:528.65px">0</div>
<div class="lb" style="right:471px;top:438.07px"><i>ク</i><i>ル</i><i>ル</i><i>ン</i><i>フ</i><i>ァ</i></div>
<div class="sc" style="left:244.5px;top:444.07px">1</div>
<div class="lb" style="right:471px;top:517.76px"><i>エ</i><i>ン</i><i>ピ</i></div>
<div class="sc" style="left:244.5px;top:511.66px">4</div>
<div class="lb" style="right:437.8px;top:365.68px"><i>ニ</i><i>ー</i><i>ハ</i><i>イ</i><i>ポ</i></div>
<div class="sc" style="left:277.7px;top:371.68px">5</div>
<div class="lb" style="right:437.8px;top:488.27px"><i>エ</i><i>ン</i><i>ピ</i></div>
<div class="sc" style="left:277.7px;top:482.17px">0</div>
<div class="lb" style="right:404.4px;top:187.38px"><i>チ</i><i>ャ</i><i>タ</i><i>ン</i><i>ヤ</i><i>ラ</i><i>・</i><i>ク</i><i>ー</i><i>サ</i></div>
<div class="sc" style="left:311.1px;top:193.38px">2</div>
<div class="lb" style="right:404.4px;top:437.32px"><i>ス</i><i>ー</i><i>パ</i><i>ー</i><i>リ</i><i>ン</i><i>ペ</i><i>イ</i></div>
<div class="sc" style="left:311.1px;top:431.22px">3</div>
<div class="lb" style="left:147.8px;top:562.65px"><i>バ</i><i>ッ</i><i>サ</i><i>イ</i><i>ダ</i><i>イ</i></div>
<div class="sc" style="left:178px;top:563.15px">0</div>
<div class="lb" style="left:147.8px;top:592.5px"><i>バ</i><i>ッ</i><i>サ</i><i>イ</i><i>ダ</i><i>イ</i></div>
<div class="sc" style="left:178px;top:593px">5</div>
<div class="lb" style="right:520.7px;top:541.2px"><i>セ</i><i>イ</i><i>エ</i><i>ン</i><i>チ</i><i>ン</i></div>
<div class="sc" style="left:211.3px;top:541.7px">0</div>
<div class="lb" style="right:520.7px;top:581.78px"><i>バ</i><i>ッ</i><i>サ</i><i>イ</i><i>ダ</i><i>イ</i></div>
<div class="sc" style="left:211.3px;top:582.28px">5</div>
<div class="lb" style="left:147.8px;top:605.55px"><i>カ</i><i>ン</i><i>ク</i><i>ウ</i><i>ダ</i><i>イ</i></div>
<div class="sc" style="left:211.3px;top:606.05px">3</div>
<div class="lb" style="left:147.8px;top:635.4px"><i>セ</i><i>ー</i><i>バ</i><i>イ</i></div>
<div class="sc" style="left:211.3px;top:635.9px">2</div>
<div class="lb" style="right:471px;top:550.69px"><i>ニ</i><i>ー</i><i>ハ</i><i>イ</i><i>ポ</i></div>
<div class="sc" style="left:244.5px;top:556.69px">1</div>
<div class="lb" style="right:471px;top:630.38px"><i>カ</i><i>ン</i><i>ク</i><i>ウ</i><i>シ</i><i>ョ</i><i>ウ</i></div>
<div class="sc" style="left:244.5px;top:624.27px">2</div>
<div class="lb" style="left:147.8px;top:669.9px"><i>チ</i><i>ン</i><i>ト</i><i>ウ</i></div>
<div class="sc" style="left:178px;top:670.4px">4</div>
<div class="lb" style="left:147.8px;top:699.75px"><i>セ</i><i>ー</i><i>バ</i><i>イ</i></div>
<div class="sc" style="left:178px;top:700.25px">1</div>
<div class="lb" style="right:520.7px;top:648.45px"><i>セ</i><i>イ</i><i>エ</i><i>ン</i><i>チ</i><i>ン</i></div>
<div class="sc" style="left:211.3px;top:648.95px">0</div>
<div class="lb" style="right:520.7px;top:689.03px"><i>チ</i><i>ン</i><i>ト</i><i>ウ</i></div>
<div class="sc" style="left:211.3px;top:689.53px">5</div>
<div class="lb" style="left:147.8px;top:712.8px"><i>カ</i><i>ン</i><i>ク</i><i>ウ</i><i>ダ</i><i>イ</i></div>
<div class="sc" style="left:178px;top:713.3px">0</div>
<div class="lb" style="left:147.8px;top:742.65px"><i>セ</i><i>ー</i><i>バ</i><i>イ</i></div>
<div class="sc" style="left:178px;top:743.15px">5</div>
<div class="lb" style="right:520.7px;top:723.52px"><i>セ</i><i>ー</i><i>バ</i><i>イ</i></div>
<div class="sc" style="left:211.3px;top:724.02px">5</div>
<div class="lb" style="right:520.7px;top:764.1px"><i>バ</i><i>ッ</i><i>サ</i><i>イ</i><i>ダ</i><i>イ</i></div>
<div class="sc" style="left:211.3px;top:764.6px">0</div>
<div class="lb" style="right:471px;top:657.94px"><i>ク</i><i>ー</i><i>シ</i><i>ャ</i><i>ン</i><i>ク</i><i>ー</i></div>
<div class="sc" style="left:244.5px;top:663.94px">5</div>
<div class="lb" style="right:471px;top:753.71px"><i>ク</i><i>ル</i><i>ル</i><i>ン</i><i>フ</i><i>ァ</i></div>
<div class="sc" style="left:244.5px;top:747.61px">0</div>
<div class="lb" style="right:437.8px;top:580.18px"><i>ニ</i><i>ー</i><i>ハ</i><i>イ</i><i>ポ</i></div>
<div class="sc" style="left:277.7px;top:586.18px">2</div>
<div class="lb" style="right:437.8px;top:716.17px"><i>ク</i><i>ー</i><i>シ</i><i>ャ</i><i>ン</i><i>ク</i><i>ー</i></div>
<div class="sc" style="left:277.7px;top:710.07px">3</div>
<div class="lb" style="left:147.8px;top:798.6px"><i>バ</i><i>ッ</i><i>サ</i><i>イ</i><i>ダ</i><i>イ</i></div>
<div class="sc" style="left:178px;top:799.1px">5</div>
<div class="lb" style="left:147.8px;top:828.45px"><i>セ</i><i>ー</i><i>バ</i><i>イ</i></div>
<div class="sc" style="left:178px;top:828.95px">0</div>
<div class="lb" style="right:520.7px;top:777.15px"><i>バ</i><i>ッ</i><i>サ</i><i>イ</i><i>ダ</i><i>イ</i></div>
<div class="sc" style="left:211.3px;top:777.65px">0</div>
<div class="lb" style="right:520.7px;top:817.73px"><i>バ</i><i>ッ</i><i>サ</i><i>イ</i><i>ダ</i><i>イ</i></div>
<div class="sc" style="left:211.3px;top:818.23px">5</div>
<div class="lb" style="left:147.8px;top:841.5px"><i>チ</i><i>ン</i><i>ト</i><i>ウ</i></div>
<div class="sc" style="left:178px;top:842px">0</div>
<div class="lb" style="left:147.8px;top:871.35px"><i>セ</i><i>ー</i><i>バ</i><i>イ</i></div>
<div class="sc" style="left:178px;top:871.85px">5</div>
<div class="lb" style="right:520.7px;top:852.22px"><i>セ</i><i>ー</i><i>バ</i><i>イ</i></div>
<div class="sc" style="left:211.3px;top:852.72px">4</div>
<div class="lb" style="right:520.7px;top:892.8px"><i>セ</i><i>ー</i><i>バ</i><i>イ</i></div>
<div class="sc" style="left:211.3px;top:893.3px">1</div>
<div class="lb" style="right:471px;top:786.64px"><i>ニ</i><i>ー</i><i>ハ</i><i>イ</i><i>ポ</i></div>
<div class="sc" style="left:244.5px;top:792.64px">0</div>
<div class="lb" style="right:471px;top:882.41px"><i>ク</i><i>ル</i><i>ル</i><i>ン</i><i>フ</i><i>ァ</i></div>
<div class="sc" style="left:244.5px;top:876.31px">5</div>
<div class="lb" style="left:147.8px;top:905.85px"><i>カ</i><i>ン</i><i>ク</i><i>ウ</i><i>ダ</i><i>イ</i></div>
<div class="sc" style="left:211.3px;top:906.35px">5</div>
<div class="lb" style="left:147.8px;top:935.7px"><i>ジ</i><i>オ</i><i>ン</i></div>
<div class="sc" style="left:211.3px;top:936.2px">0</div>
<div class="lb" style="left:147.8px;top:948.75px"><i>バ</i><i>ッ</i><i>サ</i><i>イ</i><i>ダ</i><i>イ</i></div>
<div class="sc" style="left:178px;top:949.25px">0</div>
<div class="lb" style="left:147.8px;top:978.6px"><i>カ</i><i>ン</i><i>ク</i><i>ウ</i><i>ダ</i><i>イ</i></div>
<div class="sc" style="left:178px;top:979.1px">5</div>
<div class="lb" style="right:520.7px;top:959.47px"><i>カ</i><i>ン</i><i>ク</i><i>ウ</i><i>ダ</i><i>イ</i></div>
<div class="sc" style="left:211.3px;top:959.97px">3</div>
<div class="lb" style="right:520.7px;top:1000.05px"><i>チ</i><i>ン</i><i>ト</i><i>ウ</i></div>
<div class="sc" style="left:211.3px;top:1000.55px">2</div>
<div class="lb" style="right:471px;top:909.98px"><i>エ</i><i>ン</i><i>ピ</i></div>
<div class="sc" style="left:244.5px;top:915.98px">0</div>
<div class="lb" style="right:471px;top:989.66px"><i>カ</i><i>ン</i><i>ク</i><i>ウ</i><i>シ</i><i>ョ</i><i>ウ</i></div>
<div class="sc" style="left:244.5px;top:983.56px">5</div>
<div class="lb" style="right:437.8px;top:824.18px"><i>ク</i><i>ル</i><i>ル</i><i>ン</i><i>フ</i><i>ァ</i></div>
<div class="sc" style="left:277.7px;top:830.18px">1</div>
<div class="lb" style="right:437.8px;top:960.17px"><i>カ</i><i>ン</i><i>ク</i><i>ウ</i><i>シ</i><i>ョ</i><i>ウ</i></div>
<div class="sc" style="left:277.7px;top:954.07px">2</div>
<div class="lb" style="right:404.4px;top:637.83px"><i>ワ</i><i>ン</i><i>シ</i><i>ュ</i><i>ー</i></div>
<div class="sc" style="left:311.1px;top:643.83px">1</div>
<div class="lb" style="right:404.4px;top:902.52px"><i>ス</i><i>ー</i><i>パ</i><i>ー</i><i>リ</i><i>ン</i><i>ペ</i><i>イ</i></div>
<div class="sc" style="left:311.1px;top:896.42px">2</div>
<div class="lb" style="right:371.4px;top:302px"><i>ス</i><i>ー</i><i>パ</i><i>ー</i><i>リ</i><i>ン</i><i>ペ</i><i>イ</i></div>
<div class="sc" style="left:344.1px;top:308px">5</div>
<div class="lb" style="right:371.4px;top:780.52px"><i>ワ</i><i>ン</i><i>シ</i><i>ュ</i><i>ー</i></div>
<div class="sc" style="left:344.1px;top:774.42px">0</div>
<div class="lb" style="right:148px;top:111.37px"><i>セ</i><i>ー</i><i>バ</i><i>イ</i></div>
<div class="sc" style="left:542.9px;top:111.87px">2</div>
<div class="lb" style="right:148px;top:140.74px"><i>セ</i><i>ー</i><i>バ</i><i>イ</i></div>
<div class="sc" style="left:542.9px;top:141.24px">3</div>
<div class="lb" style="left:520.6px;top:90.4px"><i>ジ</i><i>オ</i><i>ン</i></div>
<div class="sc" style="left:509.6px;top:90.9px">0</div>
<div class="lb" style="left:520.6px;top:130.25px"><i>セ</i><i>ー</i><i>バ</i><i>イ</i></div>
<div class="sc" style="left:509.6px;top:130.75px">5</div>
<div class="lb" style="right:148px;top:153.31px"><i>カ</i><i>ン</i><i>ク</i><i>ウ</i><i>ダ</i><i>イ</i></div>
<div class="sc" style="left:509.6px;top:153.81px">4</div>
<div class="lb" style="right:148px;top:182.68px"><i>カ</i><i>ン</i><i>ク</i><i>ウ</i><i>ダ</i><i>イ</i></div>
<div class="sc" style="left:509.6px;top:183.18px">1</div>
<div class="lb" style="left:471.2px;top:99.53px"><i>ク</i><i>ル</i><i>ル</i><i>ン</i><i>フ</i><i>ァ</i></div>
<div class="sc" style="left:476.3px;top:105.53px">5</div>
<div class="lb" style="left:471.2px;top:177.9px"><i>エ</i><i>ン</i><i>ピ</i></div>
<div class="sc" style="left:476.3px;top:171.8px">0</div>
<div class="lb" style="right:148px;top:216.22px"><i>ジ</i><i>オ</i><i>ン</i></div>
<div class="sc" style="left:542.9px;top:216.72px">0</div>
<div class="lb" style="right:148px;top:245.59px"><i>ジ</i><i>オ</i><i>ン</i></div>
<div class="sc" style="left:542.9px;top:246.09px">5</div>
<div class="lb" style="left:520.6px;top:195.25px"><i>セ</i><i>ー</i><i>バ</i><i>イ</i></div>
<div class="sc" style="left:509.6px;top:195.75px">0</div>
<div class="lb" style="left:520.6px;top:235.1px"><i>ジ</i><i>オ</i><i>ン</i></div>
<div class="sc" style="left:509.6px;top:235.6px">5</div>
<div class="lb" style="right:148px;top:258.16px"><i>チ</i><i>ン</i><i>ト</i><i>ウ</i></div>
<div class="sc" style="left:542.9px;top:258.66px">0</div>
<div class="lb" style="right:148px;top:287.53px"><i>セ</i><i>イ</i><i>エ</i><i>ン</i><i>チ</i><i>ン</i></div>
<div class="sc" style="left:542.9px;top:288.03px">5</div>
<div class="lb" style="left:520.6px;top:268.65px"><i>セ</i><i>イ</i><i>エ</i><i>ン</i><i>チ</i><i>ン</i></div>
<div class="sc" style="left:509.6px;top:269.15px">5</div>
<div class="lb" style="left:520.6px;top:308.5px"><i>ジ</i><i>オ</i><i>ン</i></div>
<div class="sc" style="left:509.6px;top:309px">0</div>
<div class="lb" style="left:471.2px;top:204.38px"><i>エ</i><i>ン</i><i>ピ</i></div>
<div class="sc" style="left:476.3px;top:210.38px">2</div>
<div class="lb" style="left:471.2px;top:298.47px"><i>ニ</i><i>ー</i><i>ハ</i><i>イ</i><i>ポ</i></div>
<div class="sc" style="left:476.3px;top:292.37px">3</div>
<div class="lb" style="left:437.8px;top:128.36px"><i>ク</i><i>ル</i><i>ル</i><i>ン</i><i>フ</i><i>ァ</i></div>
<div class="sc" style="left:442.9px;top:134.36px">5</div>
<div class="lb" style="left:437.8px;top:261.77px"><i>ニ</i><i>ー</i><i>ハ</i><i>イ</i><i>ポ</i></div>
<div class="sc" style="left:442.9px;top:255.68px">2</div>
<div class="lb" style="right:148px;top:342.04px"><i>バ</i><i>ッ</i><i>サ</i><i>イ</i><i>ダ</i><i>イ</i></div>
<div class="sc" style="left:542.9px;top:342.54px">0</div>
<div class="lb" style="right:148px;top:371.41px"><i>バ</i><i>ッ</i><i>サ</i><i>イ</i><i>ダ</i><i>イ</i></div>
<div class="sc" style="left:542.9px;top:371.91px">5</div>
<div class="lb" style="left:520.6px;top:321.07px"><i>セ</i><i>ー</i><i>バ</i><i>イ</i></div>
<div class="sc" style="left:509.6px;top:321.57px">0</div>
<div class="lb" style="left:520.6px;top:360.93px"><i>バ</i><i>ッ</i><i>サ</i><i>イ</i><i>ダ</i><i>イ</i></div>
<div class="sc" style="left:509.6px;top:361.43px">5</div>
<div class="lb" style="right:148px;top:383.98px"><i>バ</i><i>ッ</i><i>サ</i><i>イ</i><i>ダ</i><i>イ</i></div>
<div class="sc" style="left:542.9px;top:384.48px">5</div>
<div class="lb" style="right:148px;top:413.35px"><i>セ</i><i>ー</i><i>バ</i><i>イ</i></div>
<div class="sc" style="left:542.9px;top:413.85px">0</div>
<div class="lb" style="left:520.6px;top:394.46px"><i>バ</i><i>ッ</i><i>サ</i><i>イ</i><i>ダ</i><i>イ</i></div>
<div class="sc" style="left:509.6px;top:394.96px">5</div>
<div class="lb" style="left:520.6px;top:434.32px"><i>バ</i><i>ッ</i><i>サ</i><i>イ</i><i>ダ</i><i>イ</i></div>
<div class="sc" style="left:509.6px;top:434.82px">0</div>
<div class="lb" style="left:471.2px;top:330.2px"><i>ニ</i><i>ー</i><i>ハ</i><i>イ</i><i>ポ</i></div>
<div class="sc" style="left:476.3px;top:336.2px">5</div>
<div class="lb" style="left:471.2px;top:424.29px"><i>ニ</i><i>ー</i><i>ハ</i><i>イ</i><i>ポ</i></div>
<div class="sc" style="left:476.3px;top:418.19px">0</div>
<div class="lb" style="right:148px;top:446.89px"><i>セ</i><i>ー</i><i>バ</i><i>イ</i></div>
<div class="sc" style="left:509.6px;top:447.39px">5</div>
<div class="lb" style="right:148px;top:476.26px"><i>カ</i><i>ン</i><i>ク</i><i>ウ</i><i>ダ</i><i>イ</i></div>
<div class="sc" style="left:509.6px;top:476.76px">0</div>
<div class="lb" style="right:148px;top:488.83px"><i>セ</i><i>イ</i><i>エ</i><i>ン</i><i>チ</i><i>ン</i></div>
<div class="sc" style="left:542.9px;top:489.33px">5</div>
<div class="lb" style="right:148px;top:518.2px"><i>セ</i><i>ー</i><i>バ</i><i>イ</i></div>
<div class="sc" style="left:542.9px;top:518.7px">0</div>
<div class="lb" style="left:520.6px;top:499.31px"><i>セ</i><i>イ</i><i>エ</i><i>ン</i><i>チ</i><i>ン</i></div>
<div class="sc" style="left:509.6px;top:499.81px">4</div>
<div class="lb" style="left:520.6px;top:539.17px"><i>セ</i><i>ー</i><i>バ</i><i>イ</i></div>
<div class="sc" style="left:509.6px;top:539.67px">1</div>
<div class="lb" style="left:471.2px;top:450.77px"><i>ク</i><i>ル</i><i>ル</i><i>ン</i><i>フ</i><i>ァ</i></div>
<div class="sc" style="left:476.3px;top:456.77px">5</div>
<div class="lb" style="left:471.2px;top:529.14px"><i>ニ</i><i>ー</i><i>ハ</i><i>イ</i><i>ポ</i></div>
<div class="sc" style="left:476.3px;top:523.04px">0</div>
<div class="lb" style="left:437.8px;top:366.89px"><i>ニ</i><i>ー</i><i>ハ</i><i>イ</i><i>ポ</i></div>
<div class="sc" style="left:442.9px;top:372.89px">0</div>
<div class="lb" style="left:437.8px;top:500.31px"><i>ク</i><i>ル</i><i>ル</i><i>ン</i><i>フ</i><i>ァ</i></div>
<div class="sc" style="left:442.9px;top:494.21px">5</div>
<div class="lb" style="left:404.5px;top:184.72px"><i>パ</i><i>ー</i><i>プ</i><i>ー</i><i>レ</i><i>ン</i></div>
<div class="sc" style="left:409.6px;top:190.72px">1</div>
<div class="lb" style="left:404.5px;top:443.95px"><i>ア</i><i>ー</i><i>ナ</i><i>ン</i></div>
<div class="sc" style="left:409.6px;top:437.85px">4</div>
<div class="lb" style="right:148px;top:572.71px"><i>チ</i><i>ン</i><i>ト</i><i>ウ</i></div>
<div class="sc" style="left:542.9px;top:573.21px">3</div>
<div class="lb" style="right:148px;top:602.08px"><i>カ</i><i>ン</i><i>ク</i><i>ウ</i><i>ダ</i><i>イ</i></div>
<div class="sc" style="left:542.9px;top:602.58px">5</div>
<div class="lb" style="left:520.6px;top:551.74px"><i>バ</i><i>ッ</i><i>サ</i><i>イ</i><i>ダ</i><i>イ</i></div>
<div class="sc" style="left:509.6px;top:552.24px">0</div>
<div class="lb" style="left:520.6px;top:591.6px"><i>カ</i><i>ン</i><i>ク</i><i>ウ</i><i>ダ</i><i>イ</i></div>
<div class="sc" style="left:509.6px;top:592.1px">5</div>
<div class="lb" style="right:148px;top:614.65px"><i>バ</i><i>ッ</i><i>サ</i><i>イ</i><i>ダ</i><i>イ</i></div>
<div class="sc" style="left:509.6px;top:615.15px">5</div>
<div class="lb" style="right:148px;top:644.02px"><i>ジ</i><i>オ</i><i>ン</i></div>
<div class="sc" style="left:509.6px;top:644.52px">0</div>
<div class="lb" style="left:471.2px;top:560.87px"><i>カ</i><i>ン</i><i>ク</i><i>ウ</i><i>シ</i><i>ョ</i><i>ウ</i></div>
<div class="sc" style="left:476.3px;top:566.87px">5</div>
<div class="lb" style="left:471.2px;top:639.24px"><i>ニ</i><i>ー</i><i>ハ</i><i>イ</i><i>ポ</i></div>
<div class="sc" style="left:476.3px;top:633.13px">0</div>
<div class="lb" style="right:148px;top:677.56px"><i>セ</i><i>イ</i><i>エ</i><i>ン</i><i>チ</i><i>ン</i></div>
<div class="sc" style="left:542.9px;top:678.06px">0</div>
<div class="lb" style="right:148px;top:706.93px"><i>カ</i><i>ン</i><i>ク</i><i>ウ</i><i>ダ</i><i>イ</i></div>
<div class="sc" style="left:542.9px;top:707.43px">5</div>
<div class="lb" style="left:520.6px;top:656.59px"><i>バ</i><i>ッ</i><i>サ</i><i>イ</i><i>ダ</i><i>イ</i></div>
<div class="sc" style="left:509.6px;top:657.09px">5</div>
<div class="lb" style="left:520.6px;top:696.45px"><i>カ</i><i>ン</i><i>ク</i><i>ウ</i><i>ダ</i><i>イ</i></div>
<div class="sc" style="left:509.6px;top:696.95px">0</div>
<div class="lb" style="right:148px;top:719.5px"><i>カ</i><i>ン</i><i>ク</i><i>ウ</i><i>ダ</i><i>イ</i></div>
<div class="sc" style="left:542.9px;top:720px">5</div>
<div class="lb" style="right:148px;top:748.87px"><i>ジ</i><i>オ</i><i>ン</i></div>
<div class="sc" style="left:542.9px;top:749.37px">0</div>
<div class="lb" style="left:520.6px;top:729.98px"><i>カ</i><i>ン</i><i>ク</i><i>ウ</i><i>ダ</i><i>イ</i></div>
<div class="sc" style="left:509.6px;top:730.48px">5</div>
<div class="lb" style="left:520.6px;top:769.84px"><i>ジ</i><i>オ</i><i>ン</i></div>
<div class="sc" style="left:509.6px;top:770.34px">0</div>
<div class="lb" style="left:471.2px;top:665.72px"><i>ニ</i><i>ー</i><i>ハ</i><i>イ</i><i>ポ</i></div>
<div class="sc" style="left:476.3px;top:671.72px">4</div>
<div class="lb" style="left:471.2px;top:759.81px"><i>エ</i><i>ン</i><i>ピ</i></div>
<div class="sc" style="left:476.3px;top:753.71px">2</div>
<div class="lb" style="left:437.8px;top:589.7px"><i>カ</i><i>ン</i><i>ク</i><i>ウ</i><i>シ</i><i>ョ</i><i>ウ</i></div>
<div class="sc" style="left:442.9px;top:595.7px">4</div>
<div class="lb" style="left:437.8px;top:723.11px"><i>ニ</i><i>ー</i><i>ハ</i><i>イ</i><i>ポ</i></div>
<div class="sc" style="left:442.9px;top:717.01px">2</div>
<div class="lb" style="right:148px;top:803.38px"><i>バ</i><i>ッ</i><i>サ</i><i>イ</i><i>ダ</i><i>イ</i></div>
<div class="sc" style="left:542.9px;top:803.88px">5</div>
<div class="lb" style="right:148px;top:832.75px"><i>セ</i><i>ー</i><i>バ</i><i>イ</i></div>
<div class="sc" style="left:542.9px;top:833.25px">0</div>
<div class="lb" style="left:520.6px;top:782.41px"><i>カ</i><i>ン</i><i>ク</i><i>ウ</i><i>ダ</i><i>イ</i></div>
<div class="sc" style="left:509.6px;top:782.91px">3</div>
<div class="lb" style="left:520.6px;top:822.27px"><i>バ</i><i>ッ</i><i>サ</i><i>イ</i><i>ダ</i><i>イ</i></div>
<div class="sc" style="left:509.6px;top:822.77px">2</div>
<div class="lb" style="right:148px;top:845.32px"><i>セ</i><i>ー</i><i>バ</i><i>イ</i></div>
<div class="sc" style="left:542.9px;top:845.82px">1</div>
<div class="lb" style="right:148px;top:874.69px"><i>チ</i><i>ン</i><i>ト</i><i>ウ</i></div>
<div class="sc" style="left:542.9px;top:875.19px">4</div>
<div class="lb" style="left:520.6px;top:855.8px"><i>チ</i><i>ン</i><i>ト</i><i>ウ</i></div>
<div class="sc" style="left:509.6px;top:856.3px">5</div>
<div class="lb" style="left:520.6px;top:895.66px"><i>バ</i><i>ッ</i><i>サ</i><i>イ</i><i>ダ</i><i>イ</i></div>
<div class="sc" style="left:509.6px;top:896.16px">0</div>
<div class="lb" style="left:471.2px;top:791.54px"><i>エ</i><i>ン</i><i>ピ</i></div>
<div class="sc" style="left:476.3px;top:797.54px">0</div>
<div class="lb" style="left:471.2px;top:885.63px"><i>ク</i><i>ー</i><i>シ</i><i>ャ</i><i>ン</i><i>ク</i><i>ー</i></div>
<div class="sc" style="left:476.3px;top:879.53px">5</div>
<div class="lb" style="right:148px;top:908.23px"><i>ジ</i><i>オ</i><i>ン</i></div>
<div class="sc" style="left:509.6px;top:908.73px">0</div>
<div class="lb" style="right:148px;top:937.6px"><i>カ</i><i>ン</i><i>ク</i><i>ウ</i><i>ダ</i><i>イ</i></div>
<div class="sc" style="left:509.6px;top:938.1px">5</div>
<div class="lb" style="right:148px;top:950.17px"><i>バ</i><i>ッ</i><i>サ</i><i>イ</i><i>ダ</i><i>イ</i></div>
<div class="sc" style="left:542.9px;top:950.67px">5</div>
<div class="lb" style="right:148px;top:979.54px"><i>バ</i><i>ッ</i><i>サ</i><i>イ</i><i>ダ</i><i>イ</i></div>
<div class="sc" style="left:542.9px;top:980.04px">0</div>
<div class="lb" style="left:520.6px;top:960.65px"><i>バ</i><i>ッ</i><i>サ</i><i>イ</i><i>ダ</i><i>イ</i></div>
<div class="sc" style="left:509.6px;top:961.15px">0</div>
<div class="lb" style="left:520.6px;top:1000.51px"><i>カ</i><i>ン</i><i>ク</i><i>ウ</i><i>ダ</i><i>イ</i></div>
<div class="sc" style="left:509.6px;top:1001.01px">5</div>
<div class="lb" style="left:471.2px;top:912.12px"><i>エ</i><i>ン</i><i>ピ</i></div>
<div class="sc" style="left:476.3px;top:918.12px">0</div>
<div class="lb" style="left:471.2px;top:990.48px"><i>カ</i><i>ン</i><i>ク</i><i>ウ</i><i>シ</i><i>ョ</i><i>ウ</i></div>
<div class="sc" style="left:476.3px;top:984.38px">5</div>
<div class="lb" style="left:437.8px;top:828.24px"><i>ク</i><i>ー</i><i>シ</i><i>ャ</i><i>ン</i><i>ク</i><i>ー</i></div>
<div class="sc" style="left:442.9px;top:834.24px">3</div>
<div class="lb" style="left:437.8px;top:961.65px"><i>カ</i><i>ン</i><i>ク</i><i>ウ</i><i>シ</i><i>ョ</i><i>ウ</i></div>
<div class="sc" style="left:442.9px;top:955.55px">2</div>
<div class="lb" style="left:404.5px;top:646.06px"><i>ガ</i><i>ン</i><i>カ</i><i>ク</i></div>
<div class="sc" style="left:409.6px;top:652.06px">0</div>
<div class="lb" style="left:404.5px;top:905.29px"><i>パ</i><i>ー</i><i>プ</i><i>ー</i><i>レ</i><i>ン</i></div>
<div class="sc" style="left:409.6px;top:899.19px">5</div>
<div class="lb" style="left:371.2px;top:303.98px"><i>ア</i><i>ー</i><i>ナ</i><i>ン</i></div>
<div class="sc" style="left:376.3px;top:309.98px">2</div>
<div class="lb" style="left:371.2px;top:786.02px"><i>パ</i><i>ー</i><i>プ</i><i>ー</i><i>レ</i><i>ン</i></div>
<div class="sc" style="left:376.3px;top:779.92px">3</div>
<div class="lb" style="right:366px;top:529.5px"><i>ス</i><i>ー</i><i>パ</i><i>ー</i><i>リ</i><i>ン</i><i>ペ</i><i>イ</i></div>
<div class="lb" style="left:365px;top:529.5px"><i>パ</i><i>ー</i><i>プ</i><i>ー</i><i>レ</i><i>ン</i></div>
<div class="sc" style="left:355.5px;top:539px">1</div>
<div class="sc" style="left:364.5px;top:539px">4</div>
<svg class="ln" width="724" height="1024" viewBox="0 0 724 1024"><path d="M145.8 140.35L179.5 140.35M179.5 129.62L179.5 140.35M145.8 97.45L212.8 97.45M212.8 97.45L212.8 113.54M145.8 183.25L212.8 183.25M212.8 172.53L212.8 183.25M246 113.54L246 143.03M145.8 226.15L179.5 226.15M179.5 226.15L179.5 236.88M212.8 220.79L212.8 236.88M145.8 290.5L179.5 290.5M179.5 279.77L179.5 290.5M212.8 279.77L212.8 295.86M246 220.79L246 258.32M279.2 143.03L279.2 200.68M145.8 354.85L179.5 354.85M179.5 354.85L179.5 365.57M212.8 349.49L212.8 365.57M145.8 397.75L212.8 397.75M212.8 397.75L212.8 408.48M246 349.49L246 378.98M145.8 462.1L212.8 462.1M212.8 451.38L212.8 462.1M145.8 505L179.5 505M179.5 494.27L179.5 505M145.8 526.45L212.8 526.45M212.8 510.36L212.8 526.45M246 451.38L246 480.87M279.2 429.92L279.2 480.87M312.6 200.68L312.6 315.3M145.8 569.35L179.5 569.35M179.5 569.35L179.5 580.08M145.8 547.9L212.8 547.9M212.8 547.9L212.8 563.99M145.8 633.7L212.8 633.7M212.8 622.98L212.8 633.7M246 593.48L246 622.98M145.8 698.05L179.5 698.05M179.5 687.33L179.5 698.05M145.8 655.15L212.8 655.15M212.8 655.15L212.8 671.24M145.8 719.5L179.5 719.5M179.5 719.5L179.5 730.23M145.8 762.4L212.8 762.4M212.8 746.31L212.8 762.4M246 708.77L246 746.31M279.2 593.48L279.2 651.13M145.8 826.75L179.5 826.75M179.5 816.03L179.5 826.75M145.8 783.85L212.8 783.85M212.8 783.85L212.8 799.94M145.8 848.2L179.5 848.2M179.5 848.2L179.5 858.92M145.8 891.1L212.8 891.1M212.8 875.01L212.8 891.1M246 799.94L246 837.48M145.8 934L212.8 934M212.8 923.28L212.8 934M145.8 955.45L179.5 955.45M179.5 955.45L179.5 966.17M145.8 998.35L212.8 998.35M212.8 982.26L212.8 998.35M246 923.28L246 952.77M279.2 895.12L279.2 952.77M312.6 773.12L312.6 895.12M345.6 548L345.6 773.12M577.8 118.07L544.4 118.07M544.4 118.07L544.4 128.56M577.8 97.1L511.1 97.1M511.1 97.1L511.1 112.83M577.8 180.98L511.1 180.98M511.1 170.5L511.1 180.98M477.8 141.66L477.8 170.5M577.8 222.92L544.4 222.92M544.4 222.92L544.4 233.4M577.8 201.95L511.1 201.95M511.1 201.95L511.1 217.68M577.8 264.86L544.4 264.86M544.4 264.86L544.4 275.35M577.8 306.8L511.1 306.8M511.1 291.07L511.1 306.8M477.8 217.68L477.8 254.38M444.4 198.02L444.4 254.38M577.8 348.74L544.4 348.74M544.4 348.74L544.4 359.23M577.8 327.77L511.1 327.77M511.1 327.77L511.1 343.5M577.8 411.65L544.4 411.65M544.4 401.16L544.4 411.65M577.8 432.62L511.1 432.62M511.1 416.89L511.1 432.62M477.8 380.19L477.8 416.89M577.8 474.56L511.1 474.56M511.1 464.07L511.1 474.56M577.8 516.5L544.4 516.5M544.4 506.01L544.4 516.5M577.8 537.47L511.1 537.47M511.1 521.74L511.1 537.47M477.8 492.91L477.8 521.74M444.4 380.19L444.4 436.55M411.1 198.02L411.1 317.28M577.8 579.41L544.4 579.41M544.4 579.41L544.4 589.89M577.8 558.44L511.1 558.44M511.1 558.44L511.1 574.17M577.8 642.32L511.1 642.32M511.1 631.84L511.1 642.32M477.8 603L477.8 631.84M577.8 684.26L544.4 684.26M544.4 684.26L544.4 694.75M511.1 679.02L511.1 694.75M577.8 747.17L544.4 747.17M544.4 736.68L544.4 747.17M577.8 768.14L511.1 768.14M511.1 752.41L511.1 768.14M477.8 715.71L477.8 752.41M444.4 659.36L444.4 715.71M577.8 831.05L544.4 831.05M544.4 820.57L544.4 831.05M511.1 804.84L511.1 820.57M577.8 852.02L544.4 852.02M544.4 852.02L544.4 862.5M577.8 893.96L511.1 893.96M511.1 878.23L511.1 893.96M477.8 804.84L477.8 841.54M577.8 914.93L511.1 914.93M511.1 914.93L511.1 925.41M577.8 977.84L544.4 977.84M544.4 967.36L544.4 977.84M511.1 967.36L511.1 983.08M477.8 925.41L477.8 954.25M444.4 897.89L444.4 954.25M411.1 659.36L411.1 778.62M377.8 317.28L377.8 548M345.6 548L361.6 548" stroke="#000" stroke-width="3" stroke-linecap="square" fill="none"/><path d="M145.8 118.9L179.5 118.9M179.5 118.9L179.5 129.62M179.5 129.62L212.8 129.62M212.8 113.54L212.8 129.62M145.8 161.8L212.8 161.8M212.8 161.8L212.8 172.53M212.8 113.54L246 113.54M212.8 172.53L246 172.53M246 143.03L246 172.53M145.8 247.6L179.5 247.6M179.5 236.88L179.5 247.6M145.8 204.7L212.8 204.7M179.5 236.88L212.8 236.88M212.8 204.7L212.8 220.79M145.8 269.05L179.5 269.05M179.5 269.05L179.5 279.77M179.5 279.77L212.8 279.77M145.8 311.95L212.8 311.95M212.8 295.86L212.8 311.95M212.8 220.79L246 220.79M212.8 295.86L246 295.86M246 258.32L246 295.86M246 143.03L279.2 143.03M246 258.32L279.2 258.32M279.2 200.68L279.2 258.32M145.8 376.3L179.5 376.3M179.5 365.57L179.5 376.3M145.8 333.4L212.8 333.4M179.5 365.57L212.8 365.57M212.8 333.4L212.8 349.49M145.8 419.2L212.8 419.2M212.8 408.48L212.8 419.2M212.8 349.49L246 349.49M212.8 408.48L246 408.48M246 378.98L246 408.48M145.8 440.65L212.8 440.65M212.8 440.65L212.8 451.38M145.8 483.55L179.5 483.55M179.5 483.55L179.5 494.27M179.5 494.27L212.8 494.27M212.8 494.27L212.8 510.36M212.8 451.38L246 451.38M212.8 510.36L246 510.36M246 480.87L246 510.36M246 378.98L279.2 378.98M246 480.87L279.2 480.87M279.2 378.98L279.2 429.92M279.2 200.68L312.6 200.68M279.2 429.92L312.6 429.92M312.6 315.3L312.6 429.92M145.8 590.8L179.5 590.8M179.5 580.08L179.5 590.8M179.5 580.08L212.8 580.08M212.8 563.99L212.8 580.08M145.8 612.25L212.8 612.25M212.8 612.25L212.8 622.98M212.8 563.99L246 563.99M212.8 622.98L246 622.98M246 563.99L246 593.48M145.8 676.6L179.5 676.6M179.5 676.6L179.5 687.33M179.5 687.33L212.8 687.33M212.8 671.24L212.8 687.33M145.8 740.95L179.5 740.95M179.5 730.23L179.5 740.95M179.5 730.23L212.8 730.23M212.8 730.23L212.8 746.31M212.8 671.24L246 671.24M212.8 746.31L246 746.31M246 671.24L246 708.77M246 593.48L279.2 593.48M246 708.77L279.2 708.77M279.2 651.13L279.2 708.77M145.8 805.3L179.5 805.3M179.5 805.3L179.5 816.03M179.5 816.03L212.8 816.03M212.8 799.94L212.8 816.03M145.8 869.65L179.5 869.65M179.5 858.92L179.5 869.65M179.5 858.92L212.8 858.92M212.8 858.92L212.8 875.01M212.8 799.94L246 799.94M212.8 875.01L246 875.01M246 837.48L246 875.01M145.8 912.55L212.8 912.55M212.8 912.55L212.8 923.28M145.8 976.9L179.5 976.9M179.5 966.17L179.5 976.9M179.5 966.17L212.8 966.17M212.8 966.17L212.8 982.26M212.8 923.28L246 923.28M212.8 982.26L246 982.26M246 952.77L246 982.26M246 837.48L279.2 837.48M246 952.77L279.2 952.77M279.2 837.48L279.2 895.12M279.2 651.13L312.6 651.13M279.2 895.12L312.6 895.12M312.6 651.13L312.6 773.12M312.6 315.3L345.6 315.3M312.6 773.12L345.6 773.12M345.6 315.3L345.6 548M577.8 139.04L544.4 139.04M544.4 128.56L544.4 139.04M544.4 128.56L511.1 128.56M511.1 112.83L511.1 128.56M577.8 160.01L511.1 160.01M511.1 160.01L511.1 170.5M511.1 112.83L477.8 112.83M511.1 170.5L477.8 170.5M477.8 112.83L477.8 141.66M577.8 243.89L544.4 243.89M544.4 233.4L544.4 243.89M544.4 233.4L511.1 233.4M511.1 217.68L511.1 233.4M577.8 285.83L544.4 285.83M544.4 275.35L544.4 285.83M544.4 275.35L511.1 275.35M511.1 275.35L511.1 291.07M511.1 217.68L477.8 217.68M511.1 291.07L477.8 291.07M477.8 254.38L477.8 291.07M477.8 141.66L444.4 141.66M477.8 254.38L444.4 254.38M444.4 141.66L444.4 198.02M577.8 369.71L544.4 369.71M544.4 359.23L544.4 369.71M544.4 359.23L511.1 359.23M511.1 343.5L511.1 359.23M577.8 390.68L544.4 390.68M544.4 390.68L544.4 401.16M544.4 401.16L511.1 401.16M511.1 401.16L511.1 416.89M511.1 343.5L477.8 343.5M511.1 416.89L477.8 416.89M477.8 343.5L477.8 380.19M577.8 453.59L511.1 453.59M511.1 453.59L511.1 464.07M577.8 495.53L544.4 495.53M544.4 495.53L544.4 506.01M544.4 506.01L511.1 506.01M511.1 506.01L511.1 521.74M511.1 464.07L477.8 464.07M511.1 521.74L477.8 521.74M477.8 464.07L477.8 492.91M477.8 380.19L444.4 380.19M477.8 492.91L444.4 492.91M444.4 436.55L444.4 492.91M444.4 198.02L411.1 198.02M444.4 436.55L411.1 436.55M411.1 317.28L411.1 436.55M577.8 600.38L544.4 600.38M544.4 589.89L544.4 600.38M544.4 589.89L511.1 589.89M511.1 574.17L511.1 589.89M577.8 621.35L511.1 621.35M511.1 621.35L511.1 631.84M511.1 574.17L477.8 574.17M511.1 631.84L477.8 631.84M477.8 574.17L477.8 603M577.8 705.23L544.4 705.23M544.4 694.75L544.4 705.23M577.8 663.29L511.1 663.29M544.4 694.75L511.1 694.75M511.1 663.29L511.1 679.02M577.8 726.2L544.4 726.2M544.4 726.2L544.4 736.68M544.4 736.68L511.1 736.68M511.1 736.68L511.1 752.41M511.1 679.02L477.8 679.02M511.1 752.41L477.8 752.41M477.8 679.02L477.8 715.71M477.8 603L444.4 603M477.8 715.71L444.4 715.71M444.4 603L444.4 659.36M577.8 810.08L544.4 810.08M544.4 810.08L544.4 820.57M577.8 789.11L511.1 789.11M544.4 820.57L511.1 820.57M511.1 789.11L511.1 804.84M577.8 872.99L544.4 872.99M544.4 862.5L544.4 872.99M544.4 862.5L511.1 862.5M511.1 862.5L511.1 878.23M511.1 804.84L477.8 804.84M511.1 878.23L477.8 878.23M477.8 841.54L477.8 878.23M577.8 935.9L511.1 935.9M511.1 925.41L511.1 935.9M577.8 956.87L544.4 956.87M544.4 956.87L544.4 967.36M544.4 967.36L511.1 967.36M577.8 998.81L511.1 998.81M511.1 983.08L511.1 998.81M511.1 925.41L477.8 925.41M511.1 983.08L477.8 983.08M477.8 954.25L477.8 983.08M477.8 841.54L444.4 841.54M477.8 954.25L444.4 954.25M444.4 841.54L444.4 897.89M444.4 659.36L411.1 659.36M444.4 897.89L411.1 897.89M411.1 778.62L411.1 897.89M411.1 317.28L377.8 317.28M411.1 778.62L377.8 778.62M377.8 548L377.8 778.62M361.6 548L377.8 548M361.6 517.5L361.6 548" stroke="#e60012" stroke-width="3" stroke-linecap="square" fill="none"/></svg>
</body></html>
